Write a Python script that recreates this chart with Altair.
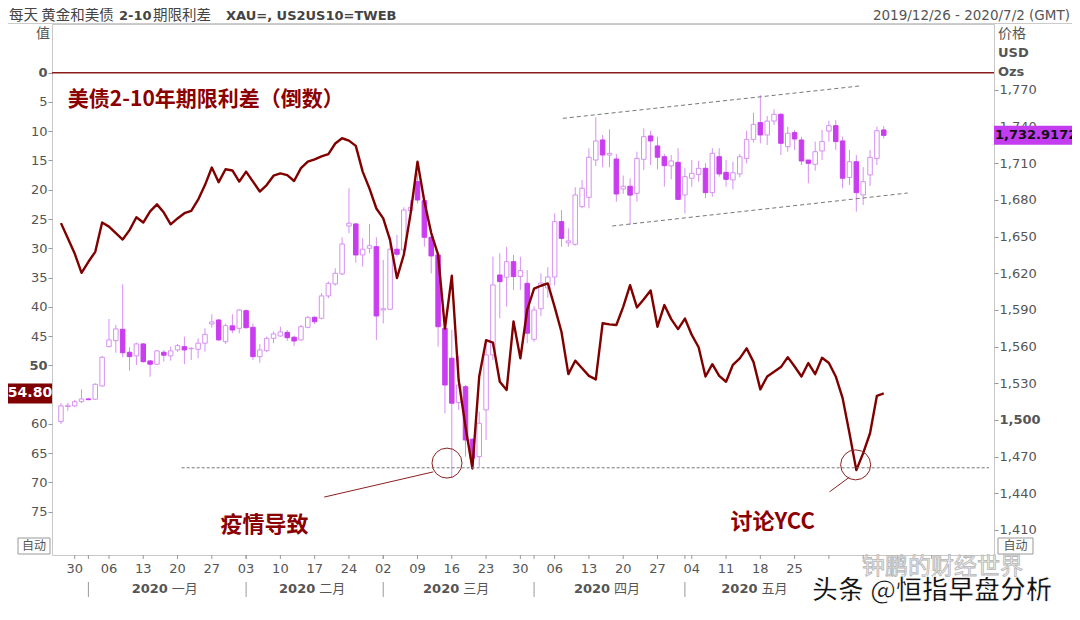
import altair as alt
import pandas as pd

# ---------------- data ----------------
opens = [1498.6, 1511.0, 1511.5, 1515.0, 1517.2, 1517.0, 1527.8, 1560.0, 1564.9, 1574.2,
         1555.4, 1552.4, 1562.2, 1548.3, 1545.6, 1555.4, 1552.4, 1557.3, 1560.0, 1558.3,
         1557.8, 1562.8, 1578.6, 1581.8, 1564.0, 1577.0, 1575.0, 1589.4, 1575.8, 1551.8,
         1556.7, 1566.8, 1568.7, 1571.7, 1567.7, 1565.5, 1575.8, 1584.0, 1583.2, 1601.5,
         1611.3, 1619.5, 1658.7, 1660.4, 1635.0, 1640.5, 1641.8, 1590.0, 1590.6, 1639.7,
         1639.1, 1671.3, 1695.0, 1679.4, 1649.5, 1635.0, 1575.0, 1550.5, 1514.2, 1527.2,
         1484.2, 1470.0, 1508.2, 1553.2, 1618.6, 1616.8, 1629.5, 1617.3, 1611.8, 1566.0,
         1591.0, 1608.0, 1617.0, 1662.3, 1645.0, 1643.7, 1674.5, 1682.2, 1712.7, 1729.1,
         1716.8, 1713.5, 1689.0, 1691.2, 1685.4, 1713.3, 1732.4, 1724.2, 1715.4, 1707.9,
         1710.8, 1684.1, 1697.8, 1700.9, 1705.9, 1686.0, 1715.4, 1702.6, 1696.4, 1701.3,
         1714.0, 1729.6, 1743.3, 1733.2, 1744.6, 1750.1, 1723.6, 1735.1, 1729.1, 1712.7,
         1709.2, 1720.1, 1736.4, 1740.8, 1728.3, 1698.4, 1711.3, 1684.1, 1700.5, 1714.0,
         1737.3]
highs = [1513.9, 1514.0, 1516.4, 1525.0, 1517.8, 1530.0, 1552.4, 1582.6, 1577.7, 1611.0,
         1559.5, 1563.3, 1563.0, 1549.0, 1557.3, 1557.3, 1560.0, 1562.2, 1568.2, 1559.5,
         1566.8, 1575.0, 1586.5, 1582.6, 1578.8, 1586.5, 1590.6, 1590.6, 1579.0, 1562.2,
         1568.2, 1572.3, 1576.3, 1573.6, 1569.0, 1577.7, 1585.0, 1585.0, 1603.7, 1613.2,
         1624.1, 1649.5, 1689.6, 1661.0, 1648.7, 1660.4, 1649.5, 1630.9, 1650.0, 1651.4,
         1674.0, 1680.0, 1701.8, 1681.4, 1650.0, 1636.9, 1577.7, 1573.6, 1552.4, 1528.6,
         1485.0, 1506.8, 1562.8, 1633.6, 1636.4, 1641.8, 1635.0, 1633.6, 1622.7, 1593.0,
         1620.0, 1625.0, 1669.0, 1671.8, 1656.8, 1690.4, 1696.4, 1722.3, 1747.7, 1733.2,
         1737.8, 1717.6, 1700.0, 1697.8, 1719.5, 1738.6, 1736.7, 1731.8, 1717.6, 1716.8,
         1722.3, 1706.0, 1712.7, 1711.9, 1710.0, 1722.3, 1722.3, 1712.7, 1711.3, 1717.6,
         1736.7, 1751.4, 1765.9, 1748.7, 1754.2, 1751.0, 1740.0, 1737.3, 1731.8, 1712.7,
         1727.8, 1737.3, 1744.9, 1745.5, 1731.8, 1720.9, 1716.8, 1706.8, 1720.9, 1740.0,
         1740.5]
lows = [1496.7, 1507.6, 1510.4, 1514.0, 1516.2, 1516.4, 1527.2, 1559.5, 1555.0, 1551.3,
        1540.3, 1545.0, 1547.0, 1535.4, 1545.0, 1547.7, 1548.5, 1555.7, 1545.6, 1549.0,
        1550.5, 1555.9, 1575.5, 1564.8, 1562.2, 1571.0, 1571.0, 1574.9, 1549.0, 1546.9,
        1555.4, 1562.8, 1568.2, 1564.8, 1560.5, 1564.9, 1575.0, 1578.5, 1582.4, 1599.6,
        1609.9, 1618.6, 1652.8, 1628.7, 1625.5, 1636.4, 1565.5, 1579.0, 1590.0, 1633.6,
        1637.8, 1663.6, 1677.3, 1641.8, 1620.0, 1560.0, 1505.5, 1452.3, 1508.2, 1470.0,
        1459.0, 1461.8, 1483.6, 1549.0, 1583.2, 1592.7, 1606.4, 1606.4, 1562.8, 1564.0,
        1585.0, 1600.0, 1610.0, 1641.8, 1641.8, 1642.6, 1673.2, 1673.2, 1707.8, 1706.8,
        1706.8, 1678.6, 1685.0, 1659.5, 1678.6, 1704.5, 1708.6, 1705.1, 1690.9, 1696.9,
        1680.0, 1669.0, 1690.9, 1695.0, 1681.4, 1682.7, 1699.1, 1690.9, 1688.7, 1698.5,
        1710.0, 1726.9, 1726.4, 1725.0, 1741.4, 1716.8, 1719.5, 1720.9, 1708.6, 1693.6,
        1704.0, 1712.7, 1727.8, 1720.9, 1689.6, 1692.3, 1670.4, 1675.9, 1691.5, 1708.6,
        1730.4]
closes = [1511.5, 1512.0, 1515.0, 1517.2, 1516.6, 1529.2, 1551.3, 1565.5, 1574.5, 1555.0,
          1551.8, 1562.2, 1547.7, 1545.6, 1556.5, 1553.0, 1556.5, 1560.8, 1557.3, 1558.6,
          1562.8, 1570.1, 1580.2, 1565.5, 1577.2, 1573.6, 1590.0, 1575.5, 1551.8, 1557.3,
          1566.8, 1570.4, 1572.0, 1567.3, 1564.6, 1576.3, 1584.0, 1580.4, 1601.5, 1611.8,
          1620.0, 1644.0, 1661.0, 1635.0, 1639.7, 1642.6, 1585.1, 1591.0, 1639.7, 1635.6,
          1671.8, 1674.0, 1680.0, 1649.5, 1634.2, 1576.3, 1528.6, 1513.7, 1528.6, 1483.6,
          1468.7, 1497.3, 1553.2, 1610.5, 1613.2, 1629.5, 1617.3, 1622.2, 1571.0, 1590.0,
          1612.0, 1617.0, 1662.3, 1648.6, 1646.5, 1684.1, 1689.6, 1714.9, 1728.3, 1716.8,
          1718.2, 1684.9, 1691.2, 1684.0, 1714.0, 1731.8, 1728.3, 1715.0, 1708.1, 1711.9,
          1680.5, 1699.1, 1701.8, 1705.9, 1686.0, 1718.2, 1701.3, 1696.9, 1702.3, 1715.4,
          1729.6, 1741.9, 1733.2, 1744.6, 1750.1, 1726.4, 1734.6, 1729.9, 1711.9, 1710.0,
          1719.5, 1727.8, 1740.8, 1727.8, 1697.8, 1711.3, 1686.0, 1695.0, 1714.9, 1736.7,
          1732.9]
spread = [25.7, 28.3, 30.9, 34.2, 32.3, 30.6, 25.6, 26.3, 27.4, 28.5,
          26.9, 24.7, 25.6, 23.7, 22.5, 23.9, 25.9, 24.9, 24.0, 23.6,
          21.7, 19.2, 16.2, 18.7, 16.5, 16.7, 18.6, 16.9, 18.6, 20.3,
          19.2, 17.6, 17.2, 17.5, 18.5, 16.3, 15.2, 14.8, 14.3, 13.9,
          12.1, 11.2, 11.6, 12.5, 16.9, 19.8, 23.2, 24.9, 28.6, 35.1,
          31.1, 24.0, 15.2, 22.0, 27.4, 31.1, 43.7, 34.7, 52.5, 60.5,
          67.6, 51.9, 45.7, 46.1, 52.8, 54.2, 42.5, 48.8, 40.5, 36.9,
          36.4, 36.0, 40.0, 44.3, 51.5, 49.2, 50.5, 51.8, 52.4, 42.8,
          43.0, 43.1, 40.0, 36.3, 40.1, 38.7, 37.2, 43.4, 39.7, 42.1,
          43.8, 42.0, 44.8, 46.9, 51.9, 49.8, 51.8, 52.8, 49.9, 48.8,
          47.1, 49.4, 54.1, 51.9, 51.1, 50.3, 48.6, 50.2, 51.9, 49.6,
          51.5, 48.7, 49.6, 51.9, 55.6, 61.6, 67.9, 65.0, 61.6, 55.2,
          54.8]

left_ticks = [0, 5, 10, 15, 20, 25, 30, 35, 40, 45, 50, 60, 65, 70, 75]   # 55 sits under the badge
right_ticks = list(range(1410, 1771, 30))
month_names = ["一月", "二月", "三月", "四月", "五月"]
last_price_label = "1,732.9172"
last_spread_label = "54.80"

# annotation geometry (data coordinates: trading-day index, spread / price)
channels = [("up", 73.2, 1746.8), ("up", 116.5, 1773.3),
            ("lo", 80.4, 1658.7), ("lo", 123.5, 1685.7)]
circles = [(56.3, 66.7), (115.9, 67.0)]
pointers = [(38.4, 72.5, 54.3, 68.2), (112.1, 71.6, 115.0, 69.1)]
floor_line = (17.6, 135.35, 67.5)

# ---------------- frames ----------------
days = pd.bdate_range("2019-12-26", "2020-07-02")
n = len(opens)
candles = pd.DataFrame({"i": range(n), "open": opens, "high": highs,
                        "low": lows, "close": closes})
line_df = pd.DataFrame({"i": range(len(spread)), "v": spread})

mondays = [(k, d.strftime("%d")) for k, d in enumerate(days)
           if d.weekday() == 0 and d >= pd.Timestamp("2019-12-30")]
day_lab = pd.DataFrame([{"i": k, "t": t} for k, t in mondays if k <= 107])
tick_df = pd.DataFrame([{"i": k} for k, _ in mondays])
m_rows, sep_rows = [], []
for m, name in zip(range(1, 6), month_names):
    idx = [k for k, d in enumerate(days) if d.year == 2020 and d.month == m]
    sep_rows.append({"i": idx[0]})
    m_rows.append({"i": (idx[0] + idx[-1]) / 2, "y": "2020", "m": name})
month_df = pd.DataFrame(m_rows)
sep_df = pd.DataFrame(sep_rows)
tick_df = pd.concat([tick_df, sep_df], ignore_index=True)

W, H = 942, 531
X0, Y0 = 52, 24          # plot origin on the page (for decorations only)
def PX(x): return alt.value(x - X0)
def PY(y): return alt.value(y - Y0)

FONT = "DejaVu Sans, Noto Sans CJK SC"
CJK = "Noto Sans CJK SC"
RED = "#800000"
MAG = "#c93cef"
MAG_LIGHT = "#d690f2"

xs = alt.Scale(domain=[-0.58, 135.35], nice=False, zero=False)
ps = alt.Scale(domain=[1389.5, 1824.0], nice=False, zero=False)
ss = alt.Scale(domain=[-8.32, 82.4], nice=False, zero=False, reverse=True)

def X(f): return alt.X(f, type="quantitative", scale=xs, axis=None)
def YP(f): return alt.Y(f, type="quantitative", scale=ps, axis=None)
def YS(f): return alt.Y(f, type="quantitative", scale=ss, axis=None)

axis_common = dict(title=None, grid=False, domain=False, ticks=True, tickSize=4,
                   tickColor="#999", labelFont=FONT, labelFontSize=13,
                   labelColor="#555", labelPadding=1)

right_axis = alt.Axis(orient="right", values=right_ticks, format=",d",
                      labelFontWeight={"condition": {"test": "datum.value == 1500", "value": "bold"},
                                       "value": "normal"}, **axis_common)
left_axis = alt.Axis(orient="left", values=left_ticks, format="d",
                     labelFontWeight={"condition": {"test": "datum.value == 0 || datum.value == 50",
                                                    "value": "bold"}, "value": "normal"},
                     **axis_common)

base_c = alt.Chart(candles)
wicks = base_c.mark_rule(color=MAG_LIGHT, strokeWidth=1).encode(
    x=X("i"), y=alt.Y("low:Q", scale=ps, axis=right_axis), y2="high:Q")
bodies = base_c.mark_bar(size=4.5, strokeWidth=1, orient="vertical").encode(
    x=X("i"), y=YP("open"), y2="close:Q",
    fill=alt.condition("datum.close >= datum.open", alt.value("#ffffff"), alt.value(MAG)),
    stroke=alt.condition("datum.close >= datum.open", alt.value(MAG_LIGHT), alt.value(MAG)))

chan_df = pd.DataFrame(channels, columns=["g", "i", "p"])
chan = alt.Chart(chan_df).mark_line(color="#777", strokeWidth=1, strokeDash=[4, 3]).encode(
    x=X("i"), y=YP("p"), detail="g:N")

spread_line = alt.Chart(line_df).mark_line(color=RED, strokeWidth=2.4, strokeJoin="round").encode(
    x=X("i"), y=alt.Y("v:Q", scale=ss, axis=left_axis))

zero = alt.Chart(pd.DataFrame({"v": [0]})).mark_rule(color="#8b1a1a", strokeWidth=1.5).encode(
    y=YS("v"))

floor_df = pd.DataFrame([{"a": floor_line[0], "b": floor_line[1], "v": floor_line[2]}])
floor = alt.Chart(floor_df).mark_rule(color="#777", strokeWidth=1, strokeDash=[3, 2]).encode(
    x=X("a"), x2="b:Q", y=YS("v"))

circ = alt.Chart(pd.DataFrame(circles, columns=["i", "v"])).mark_point(
    shape="circle", size=900, filled=False, color="#8b2020", strokeWidth=1, opacity=1).encode(
    x=X("i"), y=YS("v"))

ptr = alt.Chart(pd.DataFrame(pointers, columns=["a", "va", "b", "vb"])).mark_rule(
    color="#8b2020", strokeWidth=1).encode(x=X("a"), x2="b:Q", y=YS("va"), y2="vb:Q")

ann_title = alt.Chart(pd.DataFrame([{"i": 1.0, "v": 4.7, "t": "美债2-10年期限利差（倒数）"}])).mark_text(
    align="left", baseline="middle", font=CJK, fontSize=21, fontWeight="bold", color="#8b0000").encode(
    x=X("i"), y=YS("v"), text="t:N")
ann_notes = alt.Chart(pd.DataFrame([{"i": 29.7, "v": 77.3, "t": "疫情导致"},
                                    {"i": 103.8, "v": 76.8, "t": "讨论YCC"}])).mark_text(
    align="center", baseline="middle", font=CJK, fontSize=22, fontWeight="bold", color="#8b0000").encode(
    x=X("i"), y=YS("v"), text="t:N")

# last-value badges
sp_badge_df = pd.DataFrame([{"v": spread[-1], "t": last_spread_label}])
sp_box = alt.Chart(sp_badge_df).mark_tick(orient="horizontal", size=44, thickness=20,
                                          color=RED, opacity=1).encode(x=PX(30), y=YS("v"))
sp_txt = alt.Chart(sp_badge_df).mark_text(align="center", baseline="middle", font=FONT,
                                          fontSize=14, fontWeight="bold", color="white").encode(
    x=PX(30), y=YS("v"), text="t:N")
pr_badge_df = pd.DataFrame([{"p": closes[-1], "t": last_price_label}])
pr_box = alt.Chart(pr_badge_df).mark_tick(orient="horizontal", size=78, thickness=19,
                                          color="#c43cf0", opacity=1).encode(x=PX(1033), y=YP("p"))
pr_txt = alt.Chart(pr_badge_df).mark_text(align="left", baseline="middle", font=FONT,
                                          fontSize=13, fontWeight="bold", color="#111").encode(
    x=PX(995), y=YP("p"), text="t:N")

# bottom time axis
xticks = alt.Chart(tick_df).mark_rule(color="#999", strokeWidth=1).encode(
    x=X("i"), y=alt.value(H), y2=alt.value(H + 4))
xlabels = alt.Chart(day_lab).mark_text(baseline="middle", font=FONT, fontSize=13,
                                       color="#555").encode(x=X("i"), y=alt.value(H + 14), text="t:N")
seps = alt.Chart(sep_df).mark_rule(color="#999", strokeWidth=1).encode(
    x=X("i"), y=alt.value(H + 27), y2=alt.value(H + 42))
m_year = alt.Chart(month_df).mark_text(align="right", baseline="middle", dx=4, font=FONT,
                                       fontSize=13, fontWeight="bold", color="#555").encode(
    x=X("i"), y=alt.value(H + 34), text="y:N")
m_name = alt.Chart(month_df).mark_text(align="left", baseline="middle", dx=8, font=CJK,
                                       fontSize=13, color="#555").encode(
    x=X("i"), y=alt.value(H + 34), text="m:N")

# header / decorations (page layout)
def label(t, x, y, size=13, weight="normal", align="left", color="#444", font=FONT):
    return alt.Chart(pd.DataFrame({"t": [t]})).mark_text(
        align=align, baseline="middle", font=font, fontSize=size, fontWeight=weight,
        color=color).encode(x=PX(x), y=PY(y), text="t:N")

header_rule = alt.Chart(pd.DataFrame({"a": [0]})).mark_rule(color="#cccccc", strokeWidth=1).encode(
    x=PX(8), x2=PX(1072), y=PY(23.5))
heads = [
    label("每天 黄金和美债", 9, 16, size=14.5, font=CJK),
    label("2-10", 119, 16, weight="bold"),
    label("期限利差", 153, 16, size=14.5, font=CJK),
    label("XAU=, US2US10=TWEB", 226, 16, weight="bold"),
    label("2019/12/26 - 2020/7/2 (GMT)", 1070, 16, size=13.5, align="right", color="#555"),
    label("值", 50, 34, size=14, align="right", color="#555", font=CJK),
    label("价格", 998, 34, size=14, color="#555", font=CJK),
    label("USD", 998, 53, weight="bold", color="#555"),
    label("Ozs", 998, 72, weight="bold", color="#555"),
]

def auto_box(x1, x2):
    box = alt.Chart(pd.DataFrame({"a": [0]})).mark_rect(fill="white", stroke="#999", strokeWidth=1).encode(
        x=PX(x1), x2=PX(x2), y=PY(538), y2=PY(554))
    return box + label("自动", (x1 + x2) / 2, 546, size=12, align="center", color="#555", font=CJK)

wm1 = alt.Chart(pd.DataFrame({"t": ["钟鹏的财经世界"]})).mark_text(
    align="left", baseline="middle", font=CJK, fontSize=23, fill="#f2f2f2", stroke="#b5b5b5",
    strokeWidth=0.8).encode(x=PX(862), y=PY(567), text="t:N")
wm2 = alt.Chart(pd.DataFrame({"t": ["头条 @恒指早盘分析"]})).mark_text(
    align="left", baseline="middle", font=CJK, fontSize=26, fontWeight="bold", fill="#111111",
    stroke="#ffffff", strokeWidth=1).encode(x=PX(812), y=PY(591), text="t:N")

layers = [wicks, bodies, chan, spread_line, zero, floor, circ, ptr, ann_title, ann_notes,
          sp_box, sp_txt, pr_box, pr_txt, xticks, xlabels, seps, m_year, m_name,
          header_rule] + heads + [auto_box(18, 50), auto_box(998, 1033), wm1, wm2]

chart = alt.layer(*layers).resolve_scale(y="independent").properties(
    width=W, height=H,
    autosize=alt.AutoSizeParams(type="none"),
    padding={"left": 44, "top": 16, "right": 78, "bottom": 57},
    background="white",
).configure_view(stroke="#c8c8c8", strokeWidth=1)

chart.save("out.html", embed_options={"renderer": "svg", "actions": False})
